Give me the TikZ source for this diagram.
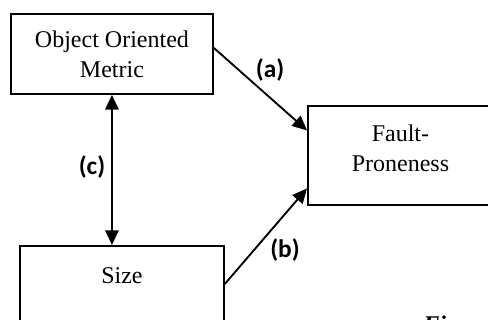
\documentclass[tikz,border=0pt]{standalone}
\usepackage{fontspec}
\setmainfont{Liberation Serif}
\newfontfamily\tagfont{Carlito}
\usetikzlibrary{arrows.meta}
\begin{document}
\begin{tikzpicture}
  [x=0.75pt,y=-0.75pt,
   box/.style={draw,line width=1.4pt,align=center,inner sep=0pt,anchor=north west,
     font=\fontsize{18}{22.5}\selectfont},
   link/.style={line width=1.4pt,-{Triangle[length=11pt,width=10pt]}},
   tag/.style={font=\tagfont\bfseries\fontsize{19}{22}\selectfont}]
  \useasboundingbox (0,0) rectangle (488,320);
  \clip (0,0) rectangle (488,320);
  % boxes
  \node[box,minimum width=151.5pt,minimum height=60pt] (metric) at (10,13) {Object Oriented\\Metric};
  \node[box,minimum width=138.75pt,minimum height=74.25pt] (fault) at (307,105) {Fault-\\Proneness\\[-12pt]\mbox{}};
  \node[box,minimum width=153pt,minimum height=67.5pt] (size) at (19,245) {Size\\\mbox{}};
  % relations
  \draw[link] ([yshift=4.5pt]metric.east) -- ([yshift=18.75pt]fault.west);
  \draw[link] ([yshift=5.25pt]size.east) -- ([yshift=-24.75pt]fault.west);
  \draw[link,{Triangle[length=11pt,width=10pt]}-{Triangle[length=11pt,width=10pt]}]
    (metric.south) -- (metric.south |- size.north);
  \node[tag] (a) at (270,70) {(a)};
  \node[tag] (b) at (285,250) {(b)};
  \node[tag] (c) at (92,167) {(c)};
  \node[anchor=north west,inner sep=0pt,font=\fontsize{18}{22}\selectfont\bfseries\itshape] (fig) at (423,316) {Fi};
\end{tikzpicture}
\end{document}
